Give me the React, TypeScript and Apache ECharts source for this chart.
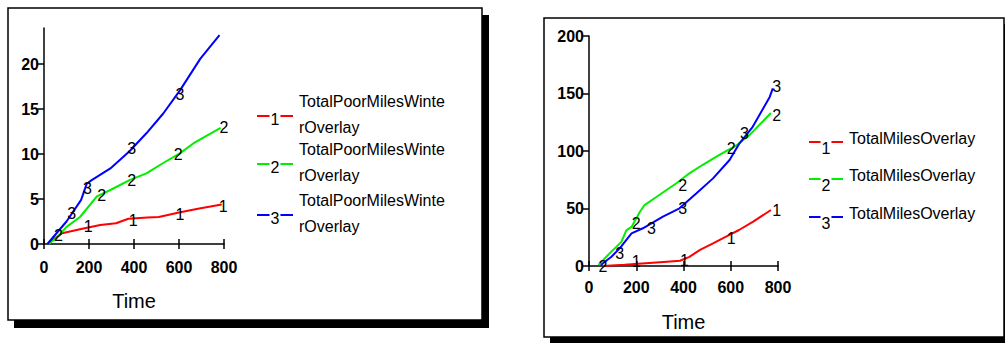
import React, { useEffect, useRef } from 'react';
import * as echarts from 'echarts';

// ---------- data ----------
const xTicks = [0, 200, 400, 600, 800];
const leftYTicks = [0, 5, 10, 15, 20];
const rightYTicks = [0, 50, 100, 150, 200];
const axisTitle = 'Time';

const leftNames = ['TotalPoorMilesWinterOverlay', 'TotalPoorMilesWinterOverlay', 'TotalPoorMilesWinterOverlay'];
const rightNames = ['TotalMilesOverlay', 'TotalMilesOverlay', 'TotalMilesOverlay'];
const seriesNumbers = ['1', '2', '3'];
const colors = ['#ff0000', '#00ee00', '#0000ff'];

const left1 = [[20, 0], [40, 0.5], [80, 1.2], [170, 1.7], [250, 2.1], [320, 2.3], [375, 2.8], [460, 2.95], [510, 3.0], [600, 3.5], [690, 3.95], [790, 4.4]];
const left2 = [[20, 0], [57, 0.7], [100, 1.9], [160, 3.0], [235, 5.3], [295, 6.0], [380, 7.1], [455, 7.85], [530, 9.0], [605, 10.1], [665, 11.2], [785, 12.9]];
const left3 = [[15, 0], [100, 2.5], [165, 4.9], [190, 6.7], [212, 7.1], [295, 8.4], [380, 10.3], [455, 12.3], [530, 14.5], [605, 17.1], [695, 20.6], [780, 23.2]];

const left1Marks = [[197, 1.9], [397, 2.6], [604, 3.3], [797, 4.2]];
const left2Marks = [[64, 1.0], [256, 5.4], [390, 7.1], [597, 9.9], [800, 13.0]];
const left3Marks = [[123, 3.4], [193, 6.2], [390, 10.6], [604, 16.6], [804, 23.6]];

const right1 = [[60, 0], [150, 1], [330, 3.8], [385, 4.6], [425, 8], [470, 14], [525, 19.7], [580, 25.5], [635, 31.3], [695, 38.6], [770, 48.7]];
const right2 = [[40, 0.9], [87, 11], [137, 21], [158, 31], [180, 34], [215, 47], [235, 53], [285, 60], [370, 72], [425, 80.6], [480, 87.8], [550, 96.5], [625, 105], [680, 114], [770, 133]];
const right3 = [[50, 0.9], [95, 8], [130, 15.4], [180, 28.4], [228, 32.8], [313, 42.9], [383, 50.2], [455, 63.2], [525, 76.2], [595, 92.2], [637, 106.7], [693, 121], [765, 147], [778, 154.5]];

const right1Marks = [[200, 3.8], [404, 5.2], [602, 24], [795, 48]];
const right2Marks = [[59, 0], [200, 37], [397, 70], [602, 102], [795, 131]];
const right3Marks = [[130, 11], [264, 33], [397, 50], [658, 115], [795, 156]];

const FONT = 'Liberation Sans';

function splitName(n: string, len: number) {
  return n.length > len ? n.slice(0, len) + '\n' + n.slice(len) : n;
}

export default function App() {
  const ref = useRef<HTMLDivElement>(null);
  useEffect(() => {
    if (!ref.current) return;
    const chart = echarts.init(ref.current, null, { renderer: 'svg' });

    const axisLine = { show: true, lineStyle: { color: '#000', width: 1.5 } };
    const tickLabel = { color: '#000', fontSize: 16, fontFamily: FONT, fontWeight: 'bold' };

    const makeX = (gridIndex: number, margin: number, nameGap: number) => [
      {
        type: 'value', gridIndex, min: 0, max: 800, interval: 200, position: 'bottom',
        axisLine, splitLine: { show: false },
        axisTick: { show: true, inside: false, length: 5, lineStyle: { color: '#000', width: 1.5 } },
        axisLabel: { ...tickLabel, margin, customValues: xTicks },
        name: axisTitle, nameLocation: 'middle', nameGap,
        nameTextStyle: { color: '#000', fontSize: 20, fontFamily: FONT },
      },
      {
        type: 'value', gridIndex, min: 0, max: 800, interval: 200, position: 'bottom', offset: 0,
        axisLine: { show: false }, splitLine: { show: false },
        axisTick: { show: true, inside: true, length: 5, lineStyle: { color: '#000', width: 1.5 } },
        axisLabel: { show: false },
      },
    ];

    const makeY = (gridIndex: number, max: number, ticks: number[]) => ({
      type: 'value', gridIndex, min: 0, max,
      axisLine, splitLine: { show: false },
      axisTick: { show: true, length: 6, customValues: ticks, lineStyle: { color: '#000', width: 1.5 } },
      axisLabel: { ...tickLabel, margin: 5, customValues: ticks },
    });

    const lineSeries = (data: number[][], color: string, xi: number, yi: number) => ({
      type: 'line', data, xAxisIndex: xi, yAxisIndex: yi, showSymbol: false, symbol: 'none',
      lineStyle: { color, width: 2 }, z: 3,
    });
    const markSeries = (data: number[][], num: string, xi: number, yi: number) => ({
      type: 'scatter', data, xAxisIndex: xi, yAxisIndex: yi, symbol: 'circle', symbolSize: 0,
      itemStyle: { color: '#000', opacity: 1 }, z: 4,
      label: { show: true, position: 'inside', formatter: () => num, color: '#000', opacity: 1, fontSize: 16, fontFamily: FONT },
    });

    const graphics: any[] = [
      { type: 'rect', z: -10, silent: true, shape: { x: 14, y: 15, width: 475, height: 313 }, style: { fill: '#000' } },
      { type: 'rect', z: -9, silent: true, shape: { x: 8, y: 8, width: 474, height: 312 }, style: { fill: '#fff', stroke: '#000', lineWidth: 1.5 } },
      { type: 'rect', z: -10, silent: true, shape: { x: 550, y: 24, width: 470, height: 330 }, style: { fill: '#000' } },
      { type: 'rect', z: -9, silent: true, shape: { x: 544, y: 18, width: 460, height: 319 }, style: { fill: '#fff', stroke: '#000', lineWidth: 1.5 } },
    ];

    const leftLegendY = [116, 164, 215];
    leftNames.forEach((n, i) => {
      const y = leftLegendY[i];
      graphics.push({ type: 'line', shape: { x1: 257, y1: y, x2: 293, y2: y }, style: { stroke: colors[i], lineWidth: 2 } });
      graphics.push({ type: 'text', x: 275, y: y + 3, style: { text: seriesNumbers[i], fill: '#000', font: `16px "${FONT}"`, align: 'center', verticalAlign: 'middle', backgroundColor: '#fff', padding: [0, 1] } });
      graphics.push({ type: 'text', x: 299, y: y - 28, style: { text: splitName(n, 19), fill: '#000', font: `16px "${FONT}"`, lineHeight: 26, align: 'left', verticalAlign: 'top' } });
    });

    const rightLegendY = [142, 179, 217];
    rightNames.forEach((n, i) => {
      const y = rightLegendY[i];
      graphics.push({ type: 'line', shape: { x1: 809, y1: y, x2: 843, y2: y }, style: { stroke: colors[i], lineWidth: 2 } });
      graphics.push({ type: 'text', x: 826, y: y + 6, style: { text: seriesNumbers[i], fill: '#000', font: `16px "${FONT}"`, align: 'center', verticalAlign: 'middle', backgroundColor: '#fff', padding: [0, 1] } });
      graphics.push({ type: 'text', x: 849, y: y - 4, style: { text: n, fill: '#000', font: `16px "${FONT}"`, align: 'left', verticalAlign: 'middle' } });
    });

    chart.setOption({
      animation: false,
      backgroundColor: '#fff',
      grid: [
        { left: 44, top: 28, width: 180, height: 216 },
        { left: 589, top: 36, width: 189, height: 230 },
      ],
      xAxis: [...makeX(0, 15, 47), ...makeX(1, 13, 46)],
      yAxis: [makeY(0, 24, leftYTicks), makeY(1, 200, rightYTicks)],
      graphic: graphics,
      series: [
        lineSeries(left1, colors[0], 0, 0),
        lineSeries(left2, colors[1], 0, 0),
        lineSeries(left3, colors[2], 0, 0),
        markSeries(left1Marks, seriesNumbers[0], 0, 0),
        markSeries(left2Marks, seriesNumbers[1], 0, 0),
        markSeries(left3Marks, seriesNumbers[2], 0, 0),
        lineSeries(right1, colors[0], 2, 1),
        lineSeries(right2, colors[1], 2, 1),
        lineSeries(right3, colors[2], 2, 1),
        markSeries(right1Marks, seriesNumbers[0], 2, 1),
        markSeries(right2Marks, seriesNumbers[1], 2, 1),
        markSeries(right3Marks, seriesNumbers[2], 2, 1),
      ],
    });
    return () => chart.dispose();
  }, []);

  return <div ref={ref} style={{ position: 'fixed', left: 0, top: 0, width: 1005, height: 343 }} />;
}
